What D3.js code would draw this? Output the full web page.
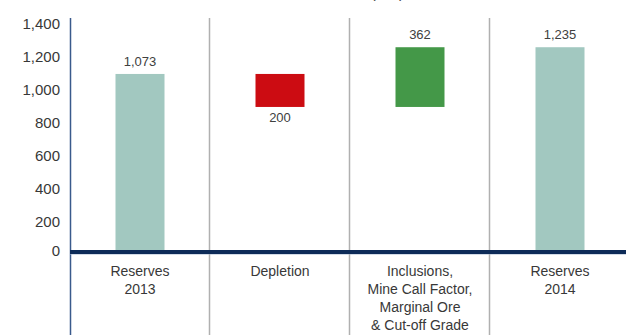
<!DOCTYPE html>
<html>
<head>
<meta charset="utf-8">
<script src="https://cdn.jsdelivr.net/npm/d3@7"></script>
<style>
  body { margin: 0; background: #fff; }
  svg { display: block; font-family: "Liberation Sans", Arial, sans-serif; }
</style>
</head>
<body>
<div id="chart"></div>
<script>
// chart data
var categories = ["Reserves 2013", "Depletion", "Inclusions", "Reserves 2014"];
var categoryLines = [
    ["Reserves", "2013"],
    ["Depletion"],
    ["Inclusions,", "Mine Call Factor,", "Marginal Ore", "& Cut-off Grade"],
    ["Reserves", "2014"]
];
var starts = [0, 873, 873, 0];
var ends = [1073, 1073, 1235, 1235];
var valueLabels = ["1,073", "200", "362", "1,235"];
var barKinds = ["total", "down", "up", "total"];
var yTicks = [0, 200, 400, 600, 800, 1000, 1200, 1400];

var W = 626, H = 335;
var svg = d3.select('#chart').append('svg').attr('width', W).attr('height', H);

var x = d3.scaleBand().domain(categories).range([70, 630]).paddingInner(0.65).paddingOuter(0.325);
var step = x.step();
var y = d3.scaleLinear().domain([0, 1400]).range([251, 20]);

var colour = { total: "#a2c8c0", down: "#cc0c12", up: "#449848" };

// title (mostly clipped at top)
svg.append("text")
    .attr("x", 404).attr("y", -2)
    .attr("text-anchor", "end")
    .attr("font-size", 15)
    .attr("fill", "#404040")
    .text("Gold Mineral Reserves (koz)");

// category dividers
svg.append("g").selectAll("line")
    .data(categories.slice(1))
    .enter().append("line")
    .attr("x1", function (d) { return x(d) - step * 0.325 - 0.5; })
    .attr("x2", function (d) { return x(d) - step * 0.325 - 0.5; })
    .attr("y1", 18).attr("y2", H)
    .attr("stroke", "#b0b0b0").attr("stroke-width", 1.5);

// bars
svg.append("g").selectAll("rect")
    .data(categories)
    .enter().append("rect")
    .attr("x", function (d) { return x(d); })
    .attr("width", x.bandwidth())
    .attr("y", function (d, i) { return y(ends[i]); })
    .attr("height", function (d, i) { return y(starts[i]) - y(ends[i]); })
    .attr("fill", function (d, i) { return colour[barKinds[i]]; });

// value labels
svg.append("g").selectAll("text")
    .data(categories)
    .enter().append("text")
    .attr("x", function (d) { return x(d) + x.bandwidth() / 2; })
    .attr("y", function (d, i) {
        return barKinds[i] === "down" ? y(starts[i]) + 15 : y(ends[i]) - 8;
    })
    .attr("text-anchor", "middle")
    .attr("font-size", 13)
    .attr("fill", "#404040")
    .text(function (d, i) { return valueLabels[i]; });

// y axis
var yAxis = svg.append("g")
    .attr("transform", "translate(70,0)")
    .call(d3.axisLeft(y).tickValues(yTicks).tickSize(0).tickPadding(10).tickFormat(d3.format(",")));
yAxis.select(".domain").remove();
yAxis.selectAll("text")
    .attr("font-size", 15)
    .attr("font-family", "Liberation Sans, Arial, sans-serif")
    .attr("fill", "#383838")
    .attr("dy", function (d) { return d === 0 ? "0.3em" : "0.55em"; });

svg.append("line")
    .attr("x1", 70.5).attr("x2", 70.5)
    .attr("y1", 18).attr("y2", H)
    .attr("stroke", "#3a5a8c").attr("stroke-width", 1.5);

// baseline
svg.append("line")
    .attr("x1", 70).attr("x2", W)
    .attr("y1", y(0) + 3).attr("y2", y(0) + 3)
    .attr("stroke", "#a8b8d0").attr("stroke-width", 1);
svg.append("line")
    .attr("x1", 70).attr("x2", W)
    .attr("y1", y(0) + 1).attr("y2", y(0) + 1)
    .attr("stroke", "#0d2b58").attr("stroke-width", 4);

// category labels
var cat = svg.append("g").selectAll("text")
    .data(categories)
    .enter().append("text")
    .attr("text-anchor", "middle")
    .attr("font-size", 14)
    .attr("fill", "#383838")
    .attr("x", function (d) { return x(d) + x.bandwidth() / 2; })
    .attr("y", 276);

cat.selectAll("tspan")
    .data(function (d, i) { return categoryLines[i]; })
    .enter().append("tspan")
    .attr("x", function () { return d3.select(this.parentNode).attr("x"); })
    .attr("dy", function (d, i) { return i === 0 ? 0 : 18; })
    .text(function (d) { return d; });
</script>
</body>
</html>
